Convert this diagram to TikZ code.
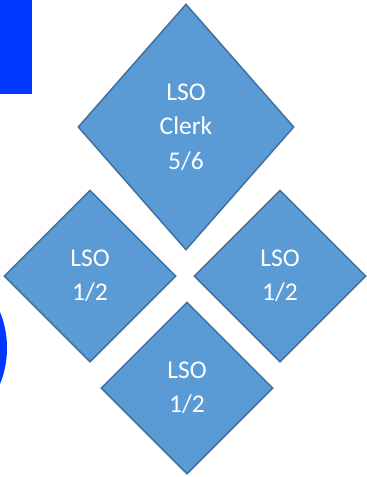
\documentclass[tikz,border=0pt]{standalone}
\usepackage{fontspec}
\setmainfont{Carlito}
\usetikzlibrary{shapes.geometric}
\definecolor{lsofill}{RGB}{91,155,213}
\definecolor{lsoline}{RGB}{65,113,156}
\definecolor{brightblue}{RGB}{0,56,255}
\tikzset{
  lso/.style={diamond, draw=lsoline, fill=lsofill, line width=1.5pt,
    text=white, align=center, inner sep=0pt,
    font=\fontsize{25.5}{34.5}\selectfont},
  bigbox/.style={lso, minimum width=216pt, minimum height=246pt},
  smallbox/.style={lso, minimum width=172pt, minimum height=172pt}
}
\begin{document}
\begin{tikzpicture}[x=1pt, y=1pt]
  \useasboundingbox (0,0) rectangle (367,-477);
  \clip (0,0) rectangle (367,-477);
  % blue shapes at the left edge
  \fill[brightblue] (0,0) rectangle (32,-94);
  \fill[brightblue] (-89,-348) circle (96);

  \node[bigbox] (clerk) at (186,-127) {LSO\\Clerk\\5/6};
  \node[smallbox] (left) at (90,-276) {LSO\\1/2};
  \node[smallbox] (right) at (280,-276) {LSO\\1/2};
  \node[smallbox] (bottom) at (187,-388) {LSO\\1/2};
\end{tikzpicture}
\end{document}
